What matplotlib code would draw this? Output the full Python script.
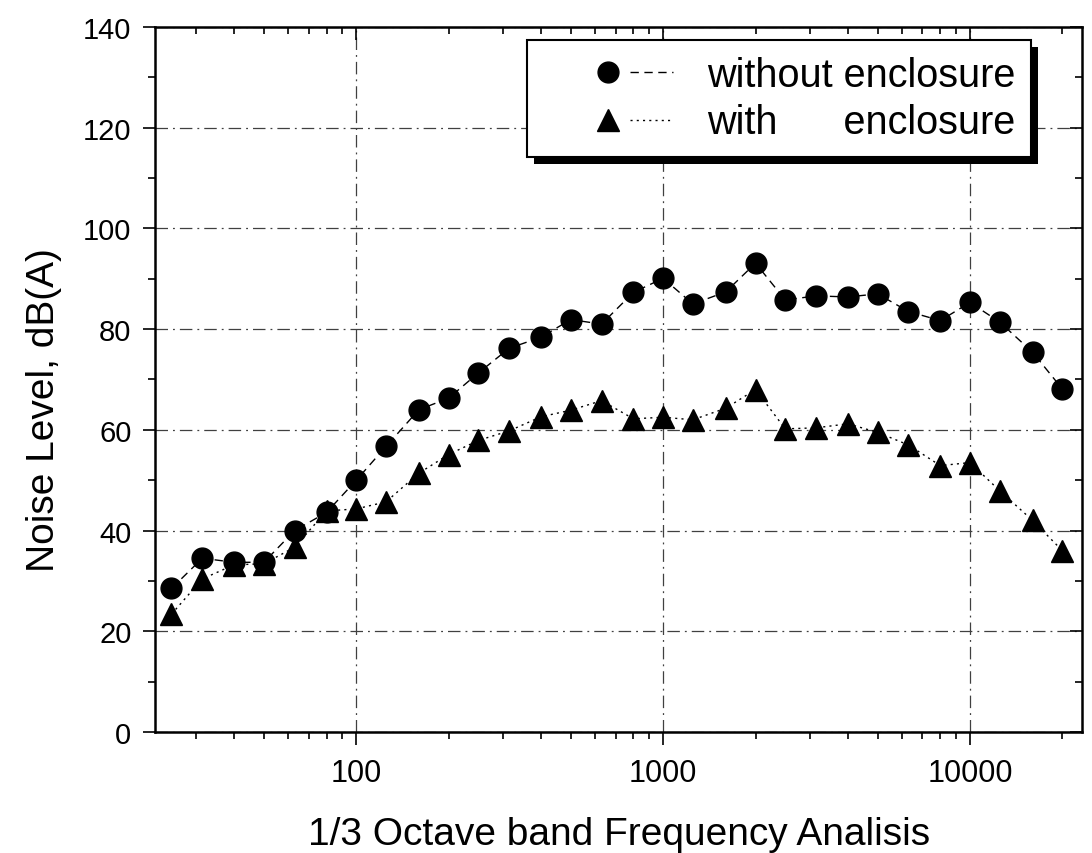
import matplotlib
matplotlib.use('Agg')
import matplotlib.pyplot as plt
from matplotlib.lines import Line2D
from matplotlib.legend_handler import HandlerTuple
from matplotlib.patches import Rectangle
from matplotlib.transforms import IdentityTransform
from matplotlib.ticker import MultipleLocator, FixedLocator, LogLocator, NullFormatter

# 1/3 octave band centre frequencies (Hz)
freqs = [25, 31.5, 40, 50, 63, 80, 100, 125, 160, 200, 250, 315, 400, 500, 630,
         800, 1000, 1250, 1600, 2000, 2500, 3150, 4000, 5000, 6300, 8000, 10000,
         12500, 16000, 20000]

# noise level, dB(A)
without_enclosure = [28.5, 34.5, 33.7, 33.7, 40.0, 43.6, 50.0, 56.7, 64.0, 66.3,
                     71.3, 76.2, 78.4, 81.9, 81.0, 87.3, 90.1, 85.0, 87.4, 93.1,
                     85.8, 86.6, 86.4, 87.0, 83.5, 81.7, 85.3, 81.4, 75.4, 68.1]
with_enclosure = [23.4, 30.4, 33.2, 33.4, 36.7, 43.9, 44.3, 45.7, 51.4, 55.1,
                  57.9, 59.8, 62.6, 63.9, 65.8, 62.2, 62.5, 62.0, 64.3, 68.0,
                  60.2, 60.4, 61.2, 59.5, 57.0, 52.9, 53.5, 47.9, 42.0, 36.0]

labels = ['without enclosure', 'with      enclosure']
xticks = [100, 1000, 10000]
yticks = [0, 20, 40, 60, 80, 100, 120, 140]

plt.rcParams['font.family'] = ['Liberation Sans', 'DejaVu Sans']

fig = plt.figure(figsize=(10.92, 8.54), dpi=100)
ax = fig.add_axes([0.142, 0.1417, 0.849, 0.8255])

dash1 = (0, (6, 4))
dot2 = (0, (1.5, 3))
ax.plot(freqs, without_enclosure, color='black', linestyle=dash1, linewidth=1.0,
        marker='o', markersize=15, zorder=3)
ax.plot(freqs, with_enclosure, color='black', linestyle=dot2, linewidth=1.0,
        marker='^', markersize=15.5, zorder=3)

ax.set_xscale('log')
ax.set_xlim(22.1, 23200)
ax.set_ylim(0, 140)

ax.xaxis.set_major_locator(FixedLocator(xticks))
ax.set_xticklabels([str(t) for t in xticks])
ax.xaxis.set_minor_locator(LogLocator(base=10, subs=range(2, 10), numticks=20))
ax.xaxis.set_minor_formatter(NullFormatter())
ax.set_yticks(yticks)
ax.yaxis.set_minor_locator(MultipleLocator(10))

ax.tick_params(which='both', direction='out', top=True, right=True, width=1.2)
ax.tick_params(which='major', length=9)
ax.tick_params(which='minor', length=5)
ax.tick_params(axis='x', which='major', labelsize=22, pad=10)
ax.tick_params(axis='y', which='major', labelsize=21, pad=8)
for t in ax.xaxis.get_major_ticks() + ax.xaxis.get_minor_ticks():
    t.tick2line.set_marker(3)
for t in ax.yaxis.get_major_ticks() + ax.yaxis.get_minor_ticks():
    t.tick2line.set_marker(0)

for s in ax.spines.values():
    s.set_linewidth(1.8)

ax.grid(True, which='major', color='0.25', linestyle=(0, (10, 4, 1.5, 4)), linewidth=0.9)

ax.set_xlabel('1/3 Octave band Frequency Analisis', fontsize=28, labelpad=20)
ax.set_ylabel('Noise Level, dB(A)', fontsize=28)
ax.yaxis.set_label_coords(-0.100, 0.458)

# legend: marker on the left, line piece on the right
blank = Line2D([], [], linestyle='none')
h1 = (blank, Line2D([], [], color='black', marker='o', markersize=15, linestyle='none'),
      Line2D([], [], color='black', linestyle=dash1, linewidth=1.0))
h2 = (blank, Line2D([], [], color='black', marker='^', markersize=15.5, linestyle='none'),
      Line2D([], [], color='black', linestyle=dot2, linewidth=1.0))
leg = ax.legend([h1, h2], labels, handler_map={tuple: HandlerTuple(ndivide=None, pad=0.0)},
                loc='upper right', bbox_to_anchor=(0.945, 0.982), borderaxespad=0,
                fontsize=28.5, frameon=True, fancybox=False, framealpha=1,
                edgecolor='black', handlelength=3.3, handletextpad=0.85,
                labelspacing=0.25, borderpad=0.4)
leg.get_frame().set_linewidth(1.5)
leg.set_zorder(5)

fig.canvas.draw()
bb = leg.get_window_extent()
shadow = Rectangle((bb.x0 + 7, bb.y0 - 7), bb.width, bb.height, transform=IdentityTransform(),
                   facecolor='black', edgecolor='none', zorder=4.9)
ax.add_artist(shadow)

fig.savefig('out.png', dpi=100)
